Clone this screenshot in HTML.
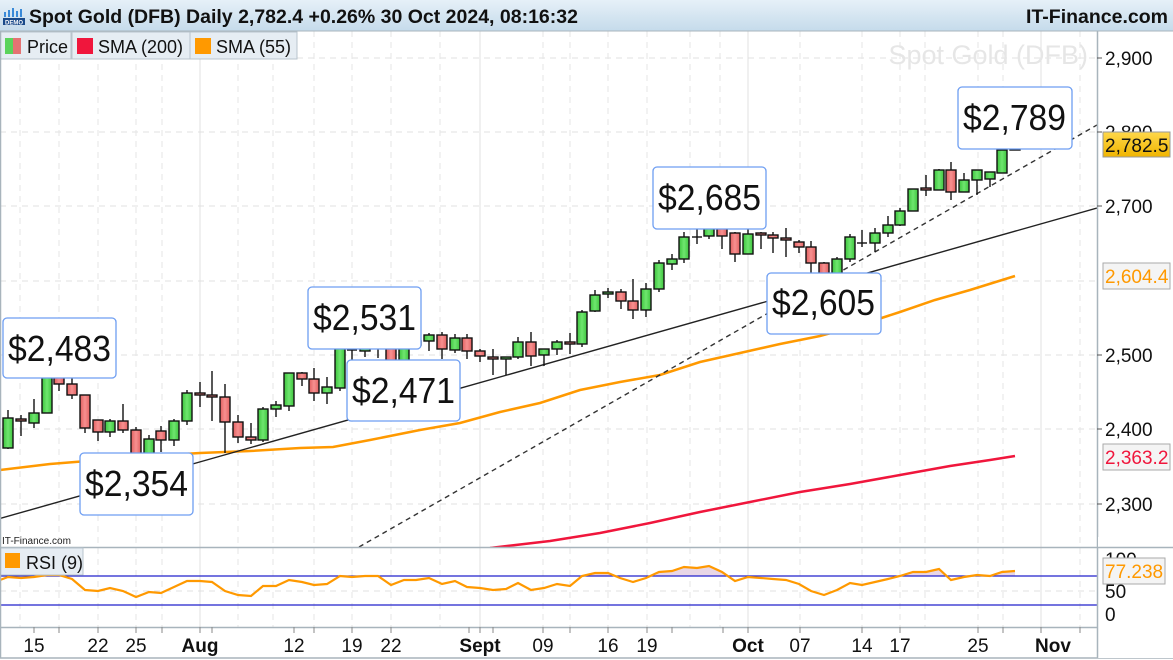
<!DOCTYPE html>
<html><head><meta charset="utf-8"><style>
html,body{margin:0;padding:0;background:#fff;}
svg{display:block;font-family:"Liberation Sans",Arial,sans-serif;}
</style></head><body>
<svg width="1173" height="660" viewBox="0 0 1173 660" xmlns="http://www.w3.org/2000/svg">
<defs>
<linearGradient id="hdr" x1="0" y1="0" x2="0" y2="1"><stop offset="0" stop-color="#e6f0f8"/><stop offset="1" stop-color="#c5dbeb"/></linearGradient>
<linearGradient id="gg" x1="0" y1="0" x2="1" y2="0"><stop offset="0" stop-color="#3ec43e"/><stop offset="0.5" stop-color="#6fe66f"/><stop offset="1" stop-color="#3ec43e"/></linearGradient>
<linearGradient id="rg" x1="0" y1="0" x2="1" y2="0"><stop offset="0" stop-color="#e06060"/><stop offset="0.5" stop-color="#f79090"/><stop offset="1" stop-color="#e06060"/></linearGradient>
<linearGradient id="gold" x1="0" y1="0" x2="0" y2="1"><stop offset="0" stop-color="#ffd84a"/><stop offset="1" stop-color="#f0b400"/></linearGradient>
<clipPath id="mainclip"><rect x="0" y="31" width="1097" height="516"/></clipPath>
<clipPath id="rsiclip"><rect x="0" y="548" width="1097" height="79"/></clipPath>
</defs>
<rect x="0" y="0" width="1173" height="660" fill="#fff"/>
<g stroke="#e2e2e2" stroke-width="1" stroke-dasharray="6,5">
<line x1="0" y1="58" x2="1097" y2="58"/><line x1="0" y1="132" x2="1097" y2="132"/>
<line x1="0" y1="206" x2="1097" y2="206"/><line x1="0" y1="281" x2="1097" y2="281"/>
<line x1="0" y1="355" x2="1097" y2="355"/><line x1="0" y1="429" x2="1097" y2="429"/>
<line x1="0" y1="504" x2="1097" y2="504"/><line x1="0" y1="591" x2="1097" y2="591"/>
</g>
<g stroke="#e6e6e6" stroke-width="1" stroke-dasharray="6,5">
<line x1="20" y1="31" x2="20" y2="627"/><line x1="59" y1="31" x2="59" y2="627"/><line x1="98" y1="31" x2="98" y2="627"/>
<line x1="136" y1="31" x2="136" y2="627"/><line x1="162" y1="31" x2="162" y2="627"/><line x1="238" y1="31" x2="238" y2="627"/>
<line x1="273" y1="31" x2="273" y2="627"/><line x1="314" y1="31" x2="314" y2="627"/><line x1="352" y1="31" x2="352" y2="627"/>
<line x1="391" y1="31" x2="391" y2="627"/><line x1="440" y1="31" x2="440" y2="627"/><line x1="543" y1="31" x2="543" y2="627"/>
<line x1="570" y1="31" x2="570" y2="627"/><line x1="608" y1="31" x2="608" y2="627"/><line x1="647" y1="31" x2="647" y2="627"/>
<line x1="690" y1="31" x2="690" y2="627"/><line x1="720" y1="31" x2="720" y2="627"/><line x1="800" y1="31" x2="800" y2="627"/>
<line x1="862" y1="31" x2="862" y2="627"/><line x1="900" y1="31" x2="900" y2="627"/><line x1="925" y1="31" x2="925" y2="627"/>
<line x1="978" y1="31" x2="978" y2="627"/><line x1="1003" y1="31" x2="1003" y2="627"/><line x1="1080" y1="31" x2="1080" y2="627"/>
</g>
<g stroke="#e0e0e0" stroke-width="1">
<line x1="200" y1="31" x2="200" y2="627"/><line x1="480" y1="31" x2="480" y2="627"/>
<line x1="748" y1="31" x2="748" y2="627"/><line x1="1041" y1="31" x2="1041" y2="627"/>
</g>
<text x="1088" y="64" font-size="27" fill="#e6e6e6" text-anchor="end">Spot Gold (DFB)</text>
<g clip-path="url(#mainclip)">
<polyline fill="none" stroke="#f0163c" stroke-width="2.5" points="490,548 550,541 600,533 650,523 700,512 750,502 800,492 850,484 900,475 950,466 990,460 1015,456"/>
<polyline fill="none" stroke="#ff9900" stroke-width="2.5" points="0,470 50,464 100,460 150,456 200,453 250,451 300,448 333,447 370,440 420,430 460,423 500,412 540,403 580,390 620,382 660,375 700,362 740,353 780,344 820,336 860,325 900,312 935,300 970,290 1015,276"/>
<line x1="0" y1="518.5" x2="1097" y2="208" stroke="#222" stroke-width="1.4"/>
<line x1="359" y1="547" x2="1097" y2="125" stroke="#333" stroke-width="1.4" stroke-dasharray="5,4"/>
<g stroke="#111" stroke-width="1.4">
<line x1="8" y1="410" x2="8" y2="449"/><rect x="3" y="418" width="10" height="30" fill="url(#gg)"/>
<line x1="21" y1="415" x2="21" y2="436"/><rect x="16" y="419" width="10" height="2" fill="url(#rg)"/>
<line x1="34" y1="399" x2="34" y2="428"/><rect x="29" y="413" width="10" height="10" fill="url(#gg)"/>
<line x1="47" y1="376" x2="47" y2="413"/><rect x="42" y="377" width="10" height="36" fill="url(#gg)"/>
<line x1="59" y1="366" x2="59" y2="391"/><rect x="54" y="377" width="10" height="7" fill="url(#rg)"/>
<line x1="72" y1="373" x2="72" y2="399"/><rect x="67" y="384" width="10" height="11" fill="url(#rg)"/>
<line x1="85" y1="395" x2="85" y2="433"/><rect x="80" y="395" width="10" height="33" fill="url(#rg)"/>
<line x1="98" y1="420" x2="98" y2="441"/><rect x="93" y="420" width="10" height="12" fill="url(#rg)"/>
<line x1="110" y1="419" x2="110" y2="437"/><rect x="105" y="421" width="10" height="11" fill="url(#gg)"/>
<line x1="123" y1="404" x2="123" y2="433"/><rect x="118" y="421" width="10" height="9" fill="url(#rg)"/>
<line x1="136" y1="427" x2="136" y2="463"/><rect x="131" y="430" width="10" height="25" fill="url(#rg)"/>
<line x1="149" y1="435" x2="149" y2="462"/><rect x="144" y="439" width="10" height="16" fill="url(#gg)"/>
<line x1="161" y1="426" x2="161" y2="452"/><rect x="156" y="431" width="10" height="9" fill="url(#rg)"/>
<line x1="174" y1="419" x2="174" y2="446"/><rect x="169" y="421" width="10" height="19" fill="url(#gg)"/>
<line x1="187" y1="390" x2="187" y2="425"/><rect x="182" y="393" width="10" height="28" fill="url(#gg)"/>
<line x1="200" y1="382" x2="200" y2="407"/><rect x="195" y="393" width="10" height="2" fill="url(#rg)"/>
<line x1="212" y1="371" x2="212" y2="421"/><rect x="207" y="395" width="10" height="2" fill="url(#rg)"/>
<line x1="225" y1="384" x2="225" y2="453"/><rect x="220" y="397" width="10" height="25" fill="url(#rg)"/>
<line x1="238" y1="415" x2="238" y2="443"/><rect x="233" y="422" width="10" height="15" fill="url(#rg)"/>
<line x1="251" y1="423" x2="251" y2="444"/><rect x="246" y="437" width="10" height="3" fill="url(#rg)"/>
<line x1="263" y1="407" x2="263" y2="442"/><rect x="258" y="409" width="10" height="31" fill="url(#gg)"/>
<line x1="276" y1="401" x2="276" y2="417"/><rect x="271" y="405" width="10" height="4" fill="url(#gg)"/>
<line x1="289" y1="373" x2="289" y2="411"/><rect x="284" y="373" width="10" height="33" fill="url(#gg)"/>
<line x1="302" y1="372" x2="302" y2="386"/><rect x="297" y="373" width="10" height="6" fill="url(#rg)"/>
<line x1="314" y1="368" x2="314" y2="401"/><rect x="309" y="379" width="10" height="14" fill="url(#rg)"/>
<line x1="327" y1="377" x2="327" y2="404"/><rect x="322" y="387" width="10" height="6" fill="url(#gg)"/>
<line x1="340" y1="347" x2="340" y2="391"/><rect x="335" y="348" width="10" height="40" fill="url(#gg)"/>
<line x1="352" y1="343" x2="352" y2="365"/><line x1="347" y1="350" x2="357" y2="350"/>
<line x1="365" y1="330" x2="365" y2="357"/><rect x="360" y="343" width="10" height="8" fill="url(#gg)"/>
<line x1="378" y1="340" x2="378" y2="358"/><line x1="373" y1="343" x2="383" y2="343"/>
<line x1="391" y1="343" x2="391" y2="375"/><rect x="386" y="344" width="10" height="21" fill="url(#rg)"/>
<line x1="404" y1="340" x2="404" y2="367"/><rect x="399" y="345" width="10" height="20" fill="url(#gg)"/>
<line x1="416" y1="335" x2="416" y2="348"/><rect x="411" y="341" width="10" height="4" fill="url(#gg)"/>
<line x1="429" y1="333" x2="429" y2="351"/><rect x="424" y="335" width="10" height="6" fill="url(#gg)"/>
<line x1="442" y1="332" x2="442" y2="359"/><rect x="437" y="335" width="10" height="14" fill="url(#rg)"/>
<line x1="455" y1="334" x2="455" y2="353"/><rect x="450" y="338" width="10" height="12" fill="url(#gg)"/>
<line x1="467" y1="334" x2="467" y2="359"/><rect x="462" y="338" width="10" height="13" fill="url(#rg)"/>
<line x1="480" y1="349" x2="480" y2="362"/><rect x="475" y="351" width="10" height="5" fill="url(#rg)"/>
<line x1="493" y1="349" x2="493" y2="375"/><rect x="488" y="357" width="10" height="2" fill="url(#rg)"/>
<line x1="506" y1="357" x2="506" y2="375"/><rect x="501" y="357" width="10" height="2" fill="url(#gg)"/>
<line x1="518" y1="337" x2="518" y2="359"/><rect x="513" y="342" width="10" height="15" fill="url(#gg)"/>
<line x1="531" y1="332" x2="531" y2="366"/><rect x="526" y="342" width="10" height="14" fill="url(#rg)"/>
<line x1="544" y1="349" x2="544" y2="366"/><rect x="539" y="349" width="10" height="6" fill="url(#gg)"/>
<line x1="557" y1="340" x2="557" y2="355"/><rect x="552" y="342" width="10" height="7" fill="url(#gg)"/>
<line x1="570" y1="333" x2="570" y2="354"/><rect x="565" y="342" width="10" height="2" fill="url(#rg)"/>
<line x1="582" y1="310" x2="582" y2="347"/><rect x="577" y="312" width="10" height="32" fill="url(#gg)"/>
<line x1="595" y1="290" x2="595" y2="312"/><rect x="590" y="295" width="10" height="16" fill="url(#gg)"/>
<line x1="608" y1="288" x2="608" y2="298"/><rect x="603" y="292" width="10" height="2" fill="url(#gg)"/>
<line x1="621" y1="289" x2="621" y2="309"/><rect x="616" y="292" width="10" height="9" fill="url(#rg)"/>
<line x1="633" y1="279" x2="633" y2="319"/><rect x="628" y="301" width="10" height="9" fill="url(#rg)"/>
<line x1="646" y1="283" x2="646" y2="317"/><rect x="641" y="289" width="10" height="21" fill="url(#gg)"/>
<line x1="659" y1="260" x2="659" y2="292"/><rect x="654" y="263" width="10" height="26" fill="url(#gg)"/>
<line x1="672" y1="254" x2="672" y2="270"/><rect x="667" y="259" width="10" height="5" fill="url(#gg)"/>
<line x1="684" y1="232" x2="684" y2="263"/><rect x="679" y="237" width="10" height="22" fill="url(#gg)"/>
<line x1="697" y1="228" x2="697" y2="244"/><line x1="692" y1="237" x2="702" y2="237"/>
<line x1="709" y1="216" x2="709" y2="239"/><rect x="704" y="226" width="10" height="10" fill="url(#gg)"/>
<line x1="722" y1="224" x2="722" y2="249"/><rect x="717" y="226" width="10" height="10" fill="url(#rg)"/>
<line x1="735" y1="232" x2="735" y2="262"/><rect x="730" y="233" width="10" height="21" fill="url(#rg)"/>
<line x1="748" y1="225" x2="748" y2="254"/><rect x="743" y="234" width="10" height="20" fill="url(#gg)"/>
<line x1="761" y1="232" x2="761" y2="249"/><rect x="756" y="233" width="10" height="2" fill="url(#rg)"/>
<line x1="773" y1="232" x2="773" y2="253"/><rect x="768" y="235" width="10" height="3" fill="url(#rg)"/>
<line x1="786" y1="228" x2="786" y2="257"/><rect x="781" y="238" width="10" height="2" fill="url(#rg)"/>
<line x1="799" y1="240" x2="799" y2="253"/><rect x="794" y="242" width="10" height="5" fill="url(#rg)"/>
<line x1="811" y1="241" x2="811" y2="277"/><rect x="806" y="247" width="10" height="16" fill="url(#rg)"/>
<line x1="824" y1="262" x2="824" y2="277"/><rect x="819" y="263" width="10" height="11" fill="url(#rg)"/>
<line x1="837" y1="257" x2="837" y2="276"/><rect x="832" y="259" width="10" height="15" fill="url(#gg)"/>
<line x1="850" y1="234" x2="850" y2="262"/><rect x="845" y="237" width="10" height="22" fill="url(#gg)"/>
<line x1="862" y1="230" x2="862" y2="247"/><line x1="857" y1="243" x2="867" y2="243"/>
<line x1="875" y1="228" x2="875" y2="252"/><rect x="870" y="233" width="10" height="10" fill="url(#gg)"/>
<line x1="888" y1="216" x2="888" y2="237"/><rect x="883" y="225" width="10" height="8" fill="url(#gg)"/>
<line x1="900" y1="208" x2="900" y2="226"/><rect x="895" y="211" width="10" height="14" fill="url(#gg)"/>
<line x1="913" y1="189" x2="913" y2="211"/><rect x="908" y="189" width="10" height="22" fill="url(#gg)"/>
<line x1="926" y1="175" x2="926" y2="196"/><rect x="921" y="188" width="10" height="2" fill="url(#rg)"/>
<line x1="939" y1="169" x2="939" y2="190"/><rect x="934" y="170" width="10" height="20" fill="url(#gg)"/>
<line x1="951" y1="162" x2="951" y2="200"/><rect x="946" y="170" width="10" height="22" fill="url(#rg)"/>
<line x1="964" y1="173" x2="964" y2="192"/><rect x="959" y="180" width="10" height="12" fill="url(#gg)"/>
<line x1="977" y1="170" x2="977" y2="195"/><rect x="972" y="170" width="10" height="10" fill="url(#gg)"/>
<line x1="990" y1="172" x2="990" y2="187"/><rect x="985" y="172" width="10" height="7" fill="url(#gg)"/>
<line x1="1002" y1="150" x2="1002" y2="173"/><rect x="997" y="150" width="10" height="23" fill="url(#gg)"/>
<line x1="1015" y1="139" x2="1015" y2="150"/><rect x="1010" y="144" width="10" height="6" fill="url(#gg)"/>
</g>
</g>
<g fill="#fff" stroke="#6e9ef2" stroke-width="1.3">
<rect x="3" y="318" width="113" height="60" rx="4"/>
<rect x="80" y="453" width="113" height="62" rx="4"/>
<rect x="308" y="287" width="113" height="62" rx="4"/>
<rect x="347" y="360" width="113" height="61" rx="4"/>
<rect x="653" y="167" width="113" height="62" rx="4"/>
<rect x="767" y="273" width="114" height="61" rx="4"/>
<rect x="958" y="87" width="114" height="62" rx="4"/>
</g>
<g font-size="36" fill="#111">
<text x="8" y="361" textLength="103" lengthAdjust="spacingAndGlyphs">$2,483</text>
<text x="85" y="496" textLength="103" lengthAdjust="spacingAndGlyphs">$2,354</text>
<text x="313" y="330" textLength="103" lengthAdjust="spacingAndGlyphs">$2,531</text>
<text x="352" y="403" textLength="103" lengthAdjust="spacingAndGlyphs">$2,471</text>
<text x="658" y="210" textLength="103" lengthAdjust="spacingAndGlyphs">$2,685</text>
<text x="772" y="315" textLength="103" lengthAdjust="spacingAndGlyphs">$2,605</text>
<text x="963" y="130" textLength="103" lengthAdjust="spacingAndGlyphs">$2,789</text>
</g>
<text x="2" y="544" font-size="10" fill="#222">IT-Finance.com</text>
<line x1="0" y1="547.5" x2="1173" y2="547.5" stroke="#a8b4bc" stroke-width="1.5"/>
<line x1="0" y1="627.5" x2="1097" y2="627.5" stroke="#a8b4bc" stroke-width="1.5"/>
<g clip-path="url(#rsiclip)">
<polygon fill="#e8d6e6" points="340,576 352,577 365,576 378,576 340,576"/>
<polygon fill="#e8d6e6" points="582,576 595,573 608,573 614,576 582,576"/>
<polygon fill="#e8d6e6" points="655,576 659,572 672,571 684,567 697,568 709,566 722,572 729,576"/>
<polygon fill="#e8d6e6" points="900,576 913,572 926,572 939,569 946,576"/>
<polygon fill="#e8d6e6" points="977,576 990,576 1002,572 1015,571 1015,576"/>
<line x1="0" y1="576" x2="1097" y2="576" stroke="#2222cc" stroke-width="1.3"/>
<line x1="0" y1="605" x2="1097" y2="605" stroke="#2222cc" stroke-width="1.3"/>
<polyline fill="none" stroke="#ff9900" stroke-width="2.2" points="0,580 8,577 21,578 34,577 47,575 59,575 72,579 85,590 98,591 110,588 123,591 136,597 149,592 161,593 174,587 187,581 200,581 212,582 225,591 238,595 251,596 263,586 276,586 289,580 302,582 314,585 327,584 340,576 352,577 365,576 378,576 391,585 404,580 416,580 429,578 442,584 455,581 467,587 480,588 493,590 506,589 518,583 531,590 544,588 557,584 570,586 582,576 595,573 608,573 620,578 633,582 646,578 659,572 672,571 684,567 697,568 709,566 722,572 735,581 748,577 761,578 773,579 786,580 799,584 811,591 824,595 837,590 850,583 862,585 875,582 888,579 900,576 913,572 926,572 939,569 951,580 964,577 977,575 990,576 1002,572 1015,571"/>
</g>
<rect x="0" y="548" width="83" height="27" fill="#e6edf3" stroke="#b8c4cc"/>
<rect x="5" y="553" width="15" height="15" fill="#ff9900"/>
<text x="26" y="569" font-size="18" fill="#111">RSI (9)</text>
<line x1="0" y1="658" x2="1173" y2="658" stroke="#a8b4bc" stroke-width="1.5"/>
<g stroke="#888" stroke-width="1">
<line x1="34" y1="627" x2="34" y2="633"/><line x1="59" y1="627" x2="59" y2="633"/><line x1="98" y1="627" x2="98" y2="633"/><line x1="136" y1="627" x2="136" y2="633"/><line x1="162" y1="627" x2="162" y2="633"/><line x1="200" y1="627" x2="200" y2="633"/><line x1="212" y1="627" x2="212" y2="633"/><line x1="294" y1="627" x2="294" y2="633"/><line x1="314" y1="627" x2="314" y2="633"/><line x1="352" y1="627" x2="352" y2="633"/><line x1="391" y1="627" x2="391" y2="633"/><line x1="469" y1="627" x2="469" y2="633"/><line x1="480" y1="627" x2="480" y2="633"/><line x1="493" y1="627" x2="493" y2="633"/><line x1="543" y1="627" x2="543" y2="633"/><line x1="570" y1="627" x2="570" y2="633"/><line x1="608" y1="627" x2="608" y2="633"/><line x1="647" y1="627" x2="647" y2="633"/><line x1="672" y1="627" x2="672" y2="633"/><line x1="723" y1="627" x2="723" y2="633"/><line x1="748" y1="627" x2="748" y2="633"/><line x1="800" y1="627" x2="800" y2="633"/><line x1="862" y1="627" x2="862" y2="633"/><line x1="900" y1="627" x2="900" y2="633"/><line x1="978" y1="627" x2="978" y2="633"/><line x1="1003" y1="627" x2="1003" y2="633"/><line x1="1041" y1="627" x2="1041" y2="633"/><line x1="1080" y1="627" x2="1080" y2="633"/>
</g>
<g font-size="19" fill="#111" text-anchor="middle">
<text x="34" y="652">15</text><text x="98" y="652">22</text><text x="136" y="652">25</text>
<text x="200" y="652" font-weight="bold">Aug</text><text x="294" y="652">12</text><text x="352" y="652">19</text>
<text x="391" y="652">22</text><text x="480" y="652" font-weight="bold">Sept</text><text x="543" y="652">09</text>
<text x="608" y="652">16</text><text x="647" y="652">19</text><text x="748" y="652" font-weight="bold">Oct</text>
<text x="800" y="652">07</text><text x="862" y="652">14</text><text x="900" y="652">17</text>
<text x="978" y="652">25</text><text x="1053" y="652" font-weight="bold">Nov</text>
</g>
<rect x="1098" y="31" width="75" height="627" fill="#fff"/>
<line x1="1097.5" y1="31" x2="1097.5" y2="658" stroke="#a8b4bc" stroke-width="1.5"/>
<g stroke="#555" stroke-width="1">
<line x1="1097" y1="58" x2="1102" y2="58"/><line x1="1097" y1="132" x2="1102" y2="132"/><line x1="1097" y1="206" x2="1102" y2="206"/><line x1="1097" y1="355" x2="1102" y2="355"/><line x1="1097" y1="429" x2="1102" y2="429"/><line x1="1097" y1="504" x2="1102" y2="504"/>
</g>
<g font-size="19" fill="#111">
<text x="1105" y="65">2,900</text><text x="1105" y="139">2,800</text><text x="1105" y="213">2,700</text>
<text x="1105" y="362">2,500</text><text x="1105" y="436">2,400</text><text x="1105" y="511">2,300</text>
<text x="1105" y="566">100</text><text x="1105" y="598">50</text><text x="1105" y="621">0</text>
</g>
<rect x="1098" y="537" width="75" height="10" fill="#fff"/>
<line x1="1097" y1="547.5" x2="1173" y2="547.5" stroke="#a8b4bc" stroke-width="1.5"/>
<rect x="1103" y="132" width="67" height="25" fill="url(#gold)" stroke="#999"/>
<text x="1105" y="152" font-size="19" fill="#111">2,782.5</text>
<rect x="1103" y="263" width="67" height="26" fill="#f4f4f4" stroke="#aaa"/>
<text x="1105" y="283" font-size="19" fill="#ff9900">2,604.4</text>
<rect x="1103" y="444" width="67" height="26" fill="#f4f4f4" stroke="#aaa"/>
<text x="1105" y="464" font-size="19" fill="#f0163c">2,363.2</text>
<rect x="1103" y="558" width="62" height="26" fill="#f4f4f4" stroke="#aaa"/>
<text x="1105" y="578" font-size="19" fill="#ff9900">77.238</text>
<rect x="0" y="0" width="1173" height="31" fill="url(#hdr)"/>
<line x1="0" y1="31" x2="1173" y2="31" stroke="#a8b4bc"/>
<g fill="#3a8ad8"><rect x="4" y="12" width="2" height="5"/><rect x="8" y="10" width="2" height="7"/><rect x="12" y="8" width="2" height="9"/><rect x="16" y="11" width="2" height="6"/><rect x="20" y="9" width="2" height="8"/></g>
<rect x="3" y="18" width="22" height="7" fill="#1a4a8a"/>
<text x="14" y="24.5" font-size="6" fill="#fff" text-anchor="middle" font-weight="bold">DEMO</text>
<text x="29" y="23" font-size="19.5" font-weight="bold" fill="#111">Spot Gold (DFB) Daily 2,782.4 +0.26% 30 Oct 2024, 08:16:32</text>
<text x="1168" y="23" font-size="19.5" font-weight="bold" fill="#111" text-anchor="end">IT-Finance.com</text>
<rect x="0" y="32" width="71" height="27" fill="#e6edf3" stroke="#b8c4cc"/>
<rect x="5" y="38" width="8" height="16" fill="#5bd35b"/><rect x="13" y="38" width="8" height="16" fill="#e57373"/>
<text x="27" y="53" font-size="18" fill="#111">Price</text>
<rect x="72" y="32" width="118" height="27" fill="#e6edf3" stroke="#b8c4cc"/>
<rect x="77" y="38" width="16" height="16" fill="#f0163c"/>
<text x="98" y="53" font-size="18" fill="#111">SMA (200)</text>
<rect x="190" y="32" width="107" height="27" fill="#e6edf3" stroke="#b8c4cc"/>
<rect x="195" y="38" width="16" height="16" fill="#ff9900"/>
<text x="216" y="53" font-size="18" fill="#111">SMA (55)</text>
<line x1="0.5" y1="31" x2="0.5" y2="658" stroke="#a8b4bc" stroke-width="1.5"/>
</svg>
</body></html>
